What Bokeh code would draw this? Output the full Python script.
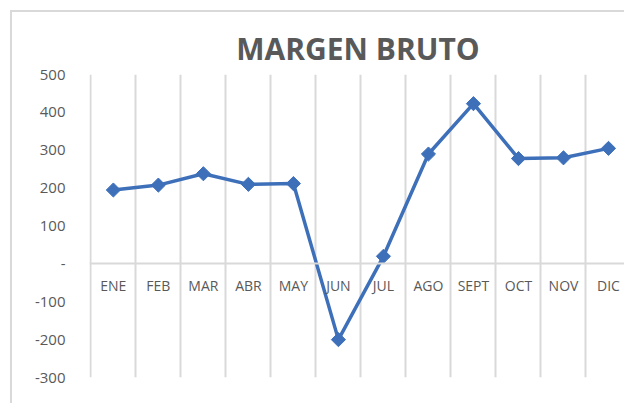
import numpy as np
from bokeh.plotting import figure
from bokeh.models import Range1d, FixedTicker, ColumnDataSource
from bokeh.embed import file_html
from bokeh.resources import INLINE

months = ["ENE", "FEB", "MAR", "ABR", "MAY", "JUN", "JUL", "AGO", "SEPT", "OCT", "NOV", "DIC"]
margen = [195, 208, 238, 210, 212, -200, 20, 290, 423, 278, 280, 305]
y_ticks = [-300, -200, -100, 0, 100, 200, 300, 400, 500]
y_labels = ["-300", "-200", "-100", "-", "100", "200", "300", "400", "500"]

x_pos = np.arange(len(months)) + 0.5
boundaries = list(range(len(months) + 1))

p = figure(width=614, height=393, output_backend="svg", toolbar_location=None,
           x_range=Range1d(-0.03, 11.90), y_range=Range1d(-300, 500),
           title="MARGEN BRUTO",
           min_border_left=77, min_border_right=0, min_border_top=62, min_border_bottom=28)

p.styles = {"border-left": "2px solid #D9D9D9", "border-top": "2px solid #D9D9D9",
            "margin-left": "10px", "margin-top": "10px"}

p.title.align = "center"
p.title.text_font = "Open Sans"
p.title.text_font_size = "30px"
p.title.text_font_style = "bold"
p.title.text_color = "#595959"
p.title.offset = 0
p.title.standoff = 11

p.outline_line_color = None
p.background_fill_color = "white"
p.border_fill_color = "white"

# x axis at zero
p.xaxis.fixed_location = 0
p.xaxis.ticker = FixedTicker(ticks=list(x_pos))
p.xaxis.major_label_overrides = {float(x): m for x, m in zip(x_pos, months)}
p.xaxis.axis_line_color = "#D9D9D9"
p.xaxis.axis_line_width = 2
p.xaxis.major_tick_line_color = None
p.xaxis.minor_tick_line_color = None
p.xaxis.major_label_text_font = "Open Sans"
p.xaxis.major_label_text_font_size = "14px"
p.xaxis.major_label_text_color = "#595959"
p.xaxis.major_label_standoff = 6

p.yaxis.ticker = FixedTicker(ticks=y_ticks)
p.yaxis.major_label_overrides = {t: lab for t, lab in zip(y_ticks, y_labels)}
p.yaxis.axis_line_color = None
p.yaxis.major_tick_line_color = None
p.yaxis.minor_tick_line_color = None
p.yaxis.major_label_text_font = "Open Sans"
p.yaxis.major_label_text_font_size = "15px"
p.yaxis.major_label_text_color = "#595959"
p.yaxis.major_label_standoff = 18

p.ygrid.grid_line_color = None
p.xgrid.ticker = FixedTicker(ticks=boundaries)
p.xgrid.grid_line_color = "#D9D9D9"
p.xgrid.grid_line_width = 2

src = ColumnDataSource(dict(x=x_pos, y=margen))
p.line("x", "y", source=src, line_color="#3E70BA", line_width=3.5)
p.scatter("x", "y", source=src, marker="square", angle=np.pi / 4, size=10,
          fill_color="#3E70BA", line_color="#3E70BA")

open("out.html", "w").write(file_html(p, INLINE))
